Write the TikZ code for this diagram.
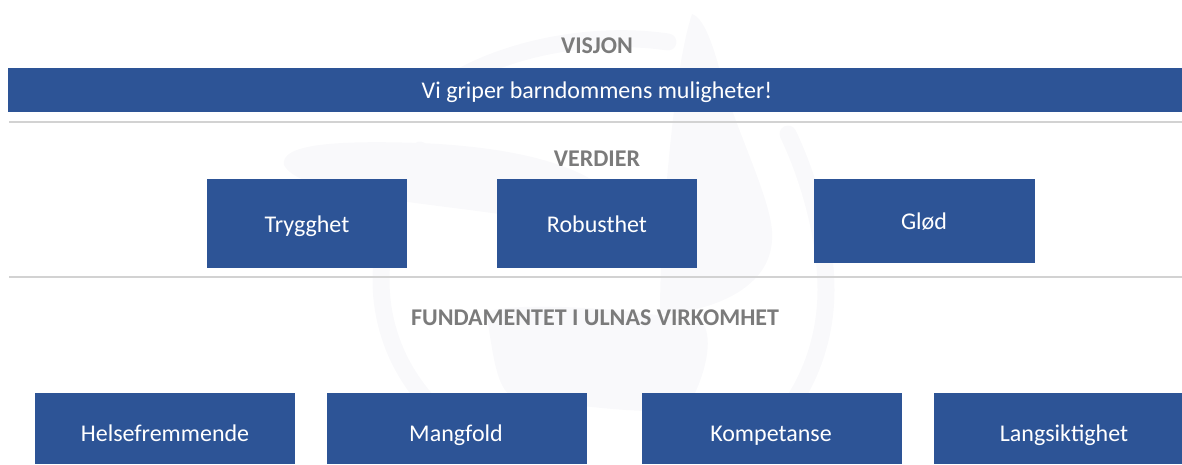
\documentclass[tikz,border=0pt]{standalone}
\usepackage{fontspec}
\setmainfont{Carlito}
\definecolor{ublue}{HTML}{2D5496}
\definecolor{uline}{HTML}{D2D2D2}
\definecolor{uhead}{HTML}{7B7B7B}
\definecolor{umark}{HTML}{F9F9FB}
\tikzset{
  box/.style={fill=ublue,draw=none,inner sep=0pt,anchor=north west},
  lbl/.style={text=white,inner sep=0pt,text height=18pt,text depth=2pt,font=\fontsize{24}{28}\selectfont},
  head/.style={text=uhead,inner sep=0pt,text height=17pt,text depth=0pt,font=\fontsize{24}{28}\selectfont\bfseries},
  rule/.style={draw=uline,line width=1.6pt},
  wm/.style={fill=umark,draw=none},
  wmring/.style={draw=umark,line width=17pt,line cap=round}
}
\begin{document}
\begin{tikzpicture}[x=1pt,y=-1pt]
\useasboundingbox (0,0) rectangle (1182,464);
% watermark
\draw[wmring] (462,76) .. controls (520,45) and (600,32) .. (668,42);
\draw[wmring] (474,440) .. controls (410,400) and (381,340) .. (381,280) .. controls (381,240) and (395,190) .. (420,150);
\draw[wmring] (752,446) .. controls (800,410) and (826,350) .. (826,290) .. controls (826,240) and (810,180) .. (788,134);
\fill[wm] (692,14) .. controls (705,18) and (715,50) .. (725,90) .. controls (745,150) and (775,210) .. (772,240) .. controls (770,285) and (720,310) .. (660,315) .. controls (660,280) and (662,230) .. (666,190) .. controls (672,120) and (680,50) .. (692,14) -- cycle;
\fill[wm] (284,165) .. controls (280,145) and (330,140) .. (420,143) .. controls (540,148) and (610,175) .. (625,215) .. controls (630,245) and (600,240) .. (560,225) .. controls (480,205) and (300,200) .. (284,165) -- cycle;
\fill[wm] (486,312) .. controls (520,300) and (660,310) .. (704,325) .. controls (715,345) and (700,390) .. (685,410) .. controls (650,415) and (560,405) .. (510,395) .. controls (495,385) and (492,345) .. (486,312) -- cycle;
% rules
\coordinate (r1a) at (9,122); \coordinate (r1b) at (1182,122);
\coordinate (r2a) at (9,277); \coordinate (r2b) at (1182,277);
\draw[rule] (r1a) -- (r1b);
\draw[rule] (r2a) -- (r2b);
% headings
\node[head] (visjon) at (597,45) {VISJON};
\node[head] (verdier) at (597,158) {VERDIER};
\node[head] (fund) at (595,317) {FUNDAMENTET I ULNAS VIRKOMHET};
% vision bar
\node[box,minimum width=1174pt,minimum height=44pt] (bar) at (8,68) {};
\node[lbl] (bartxt) at (597,90) {Vi griper barndommens muligheter!};
% values
\node[box,minimum width=200pt,minimum height=89pt] (trygg) at (207,179) {};
\node[box,minimum width=200pt,minimum height=89pt] (robust) at (497,179) {};
\node[box,minimum width=221pt,minimum height=84pt] (glod) at (814,179) {};
\node[lbl] (tt) at (307,224) {Trygghet};
\node[lbl] (tr) at (597,224) {Robusthet};
\node[lbl] (tg) at (924,221) {Glød};
% foundation
\node[box,minimum width=260pt,minimum height=71pt] (helse) at (35,393) {};
\node[box,minimum width=260pt,minimum height=71pt] (mang) at (327,393) {};
\node[box,minimum width=260pt,minimum height=71pt] (komp) at (642,393) {};
\node[box,minimum width=248pt,minimum height=71pt] (lang) at (934,393) {};
\node[lbl] (t1) at (165,433) {Helsefremmende};
\node[lbl] (t2) at (456,433) {Mangfold};
\node[lbl] (t3) at (771,433) {Kompetanse};
\node[lbl] (t4) at (1064,433) {Langsiktighet};
\end{tikzpicture}
\end{document}
